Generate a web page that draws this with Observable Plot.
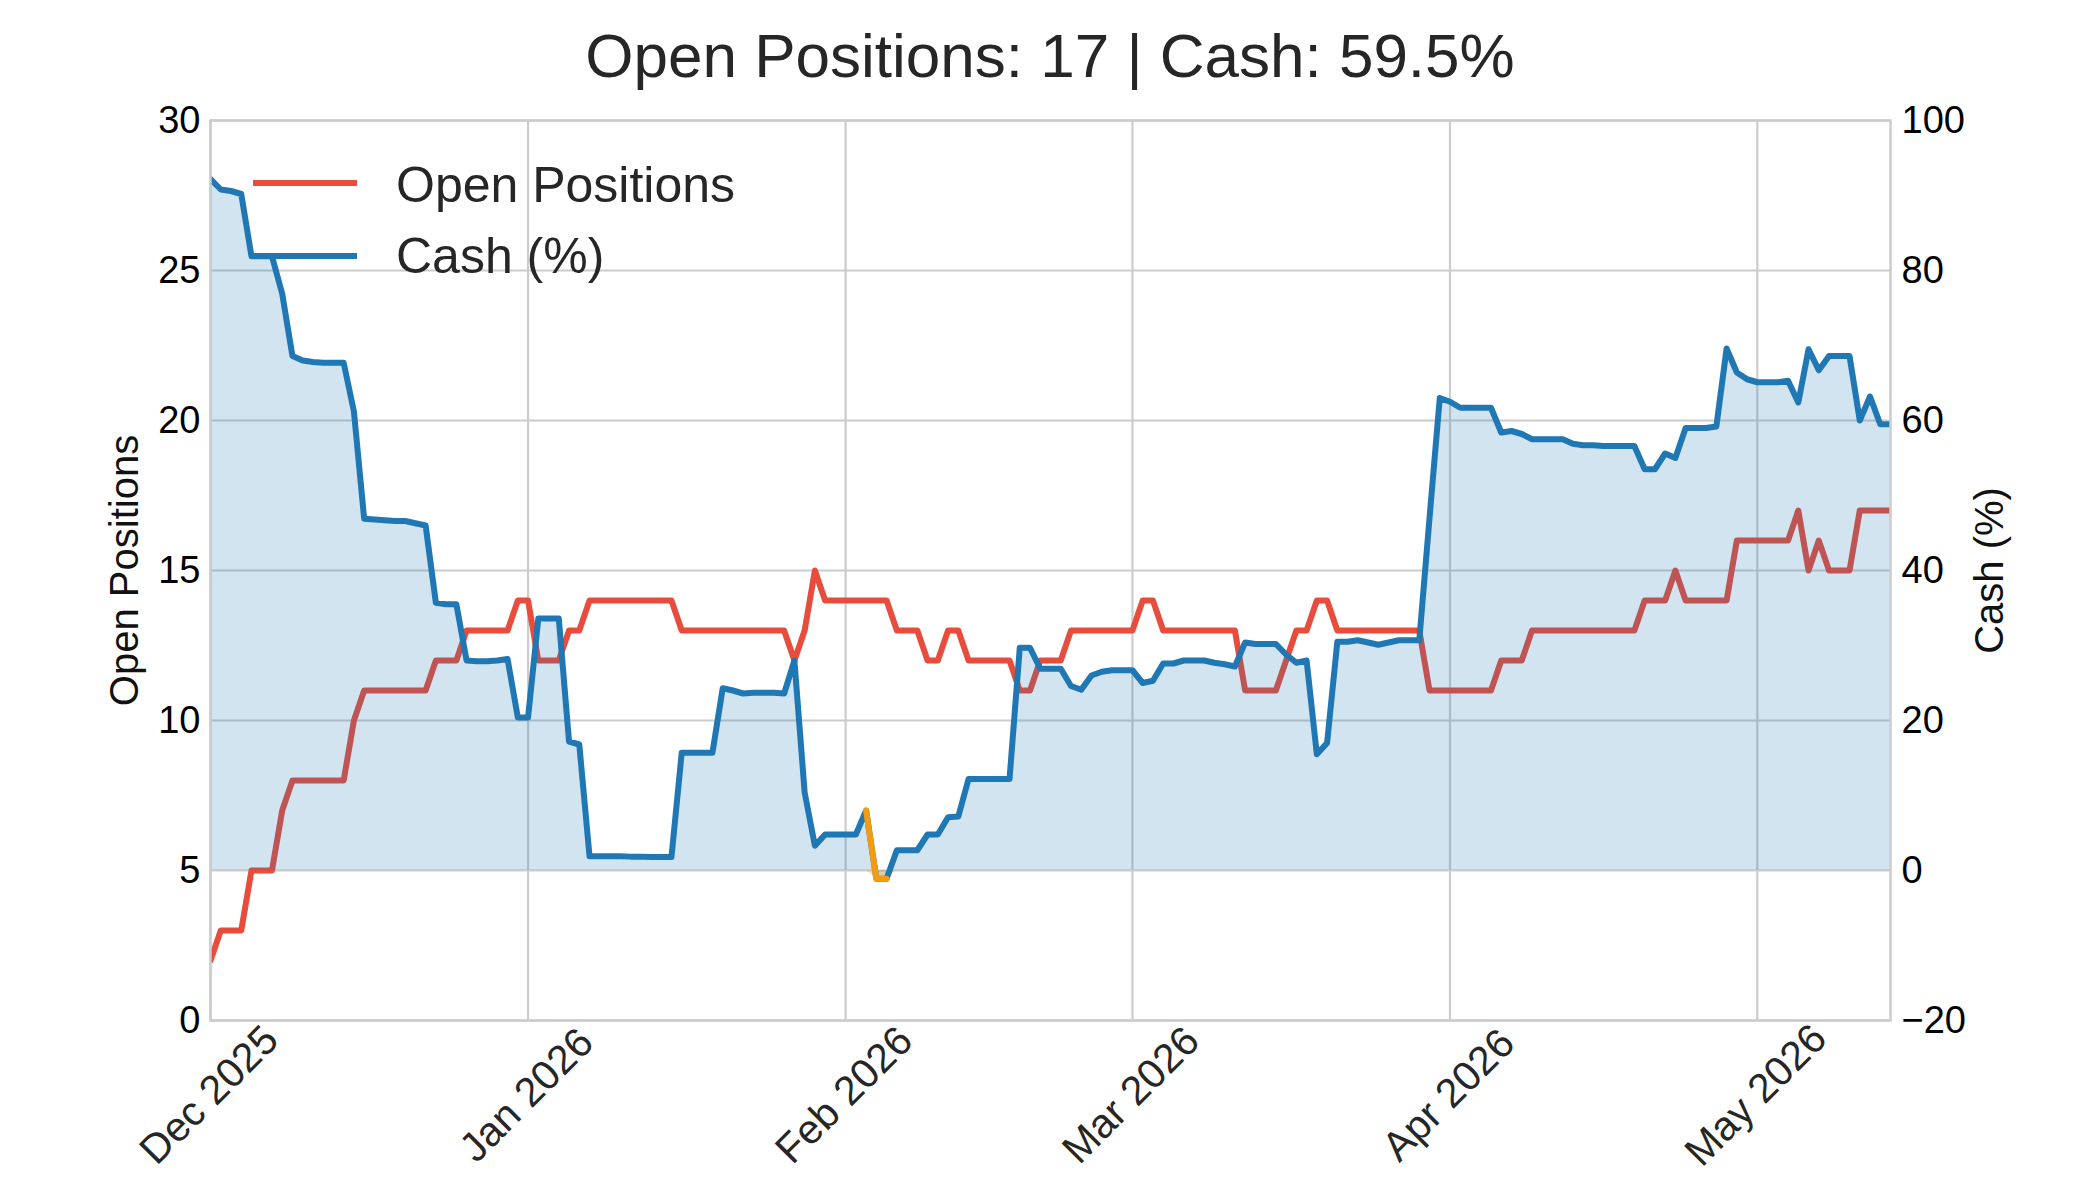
<!DOCTYPE html>
<html>
<head>
<meta charset="utf-8">
<script src="https://cdn.jsdelivr.net/npm/d3@7"></script>
<script src="https://cdn.jsdelivr.net/npm/@observablehq/plot@0.6"></script>
<style>
  html, body { margin: 0; padding: 0; background: #fff; overflow: hidden; }
  #fig { position: relative; width: 2100px; height: 1200px; font-family: "Liberation Sans", Arial, sans-serif; }
  #title { position: absolute; left: 0; top: 25px; width: 2100px; text-align: center;
           font-size: 62px; line-height: 62px; color: #262626; }
  #plots { position: absolute; left: 0; top: 100px; width: 2100px; height: 1100px; }
  #plots svg { position: absolute; left: 0; top: 0; max-width: none; overflow: visible; }
  #legend { position: absolute; left: 0; top: 0; }
</style>
</head>
<body>
<div id="fig">
  <div id="title"></div>
  <div id="plots"></div>
  <svg id="legend" width="900" height="320" font-family="'Liberation Sans', Arial, sans-serif">
    <line x1="253" x2="357" y1="183" y2="183" stroke="#e74c3c" stroke-width="6"></line>
    <text x="396" y="202" font-size="50" fill="#262626">Open Positions</text>
    <line x1="253" x2="357" y1="256" y2="256" stroke="#1f77b4" stroke-width="6"></line>
    <text x="396" y="273" font-size="50" fill="#262626">Cash (%)</text>
  </svg>
</div>
<script>
// ---------- data (one value per calendar day, 2025-12-01 .. 2026-05-14) ----------
const startDate = "2025-12-01";
const endDate = "2026-05-14";

const positionsDec = [2,3,3,3,5,5,5,7,8,8,8,8,8,8,10,11,11,11,11,11,11,11,12,12,12,13,13,13,13,13,14];
const positionsJan = [14,12,12,12,13,13,14,14,14,14,14,14,14,14,14,13,13,13,13,13,13,13,13,13,13,13,12,13,15,14,14];
const positionsFeb = [14,14,14,14,14,13,13,13,12,12,13,13,12,12,12,12,12,11,11,12,12,12,13,13,13,13,13,13];
const positionsMar = [13,14,14,13,13,13,13,13,13,13,13,11,11,11,11,12,13,13,14,14,13,13,13,13,13,13,13,13,13,11,11];
const positionsApr = [11,11,11,11,11,12,12,12,13,13,13,13,13,13,13,13,13,13,13,14,14,14,15,14,14,14,14,14,16,16];
const positionsMay = [16,16,16,16,17,15,16,15,15,15,17,17,17,17];

const cashDec = [92.2,90.8,90.6,90.2,81.9,81.9,81.9,76.9,68.6,68.0,67.8,67.7,67.7,67.7,61.2,46.9,46.8,46.7,46.6,46.6,46.3,46.0,35.7,35.5,35.5,28.0,27.9,27.9,28.0,28.2,20.4];
const cashJan = [20.4,33.6,33.6,33.6,17.2,16.8,1.9,1.9,1.9,1.9,1.85,1.85,1.8,1.8,1.8,15.7,15.7,15.7,15.7,24.3,24.0,23.6,23.7,23.7,23.7,23.6,28.0,10.4,3.3,4.8,4.8];
const cashFeb = [4.8,4.8,8.0,-1.1,-1.1,2.7,2.7,2.7,4.8,4.8,7.1,7.2,12.2,12.2,12.2,12.2,12.2,29.7,29.7,26.9,26.9,26.9,24.6,24.1,26.0,26.5,26.7,26.7];
const cashMar = [26.7,25.0,25.3,27.6,27.6,28.0,28.0,28.0,27.7,27.5,27.2,30.4,30.2,30.2,30.2,28.8,27.7,28.0,15.5,17.0,30.5,30.5,30.7,30.4,30.1,30.4,30.7,30.7,30.7,47.0,63.0];
const cashApr = [62.5,61.7,61.7,61.7,61.7,58.4,58.6,58.2,57.5,57.5,57.5,57.5,56.9,56.7,56.7,56.6,56.6,56.6,56.6,53.5,53.5,55.6,55.0,59.0,59.0,59.0,59.2,69.6,66.4,65.5];
const cashMay = [65.1,65.1,65.1,65.3,62.4,69.5,66.7,68.6,68.6,68.6,60.0,63.2,59.5,59.5];

const monthTicks = ["2025-12-01","2026-01-01","2026-02-01","2026-03-01","2026-04-01","2026-05-01"];
const positionTicks = [0,5,10,15,20,25,30];
const cashTicks = [-20,0,20,40,60,80,100];

// ---------- build table ----------
const openPositions = [].concat(positionsDec, positionsJan, positionsFeb, positionsMar, positionsApr, positionsMay);
const cashPct = [].concat(cashDec, cashJan, cashFeb, cashMar, cashApr, cashMay);
const t0 = new Date(startDate + "T00:00:00Z");
const t1 = new Date(endDate + "T00:00:00Z");
const dates = d3.utcDays(t0, d3.utcDay.offset(t1, 1));
const series = dates.map((date, i) => ({date, positions: openPositions[i], cash: cashPct[i]}));
const negSeg = series.filter((d, i) => d.cash < 0 || (series[i + 1] && series[i + 1].cash < 0));
const monthDates = monthTicks.map(s => new Date(s + "T00:00:00Z"));
const fmtMonth = d3.utcFormat("%b %Y");

const lastPoint = series[series.length - 1];
document.getElementById("title").textContent =
  `Open Positions: ${lastPoint.positions} | Cash: ${lastPoint.cash.toFixed(1)}%`;

const fontStack = "'Liberation Sans', Arial, sans-serif";
const common = {
  width: 2100, height: 1100,
  marginLeft: 210, marginRight: 210, marginTop: 20, marginBottom: 180,
  x: {type: "utc", domain: [t0, t1], axis: null}
};

const positionsPlot = Plot.plot({
  ...common,
  y: {domain: [0, 30]},
  style: {fontFamily: fontStack, background: "white", overflow: "visible"},
  marks: [
    Plot.gridY(positionTicks, {stroke: "#cccccc", strokeOpacity: 1, strokeWidth: 2.2}),
    Plot.gridX(monthDates, {stroke: "#cccccc", strokeOpacity: 1, strokeWidth: 2.2}),
    Plot.axisY(positionTicks, {anchor: "left", tickSize: 0, tickPadding: 10, fontSize: 38, fill: "#000", label: null}),
    Plot.text(monthDates, {x: d => d, text: d => fmtMonth(d), frameAnchor: "bottom", dx: 8, dy: 84,
      rotate: -45, fontSize: 41, fill: "#262626", textAnchor: "middle"}),
    Plot.text(["Open Positions"], {text: d => d, frameAnchor: "left", dx: -85, rotate: -90,
      textAnchor: "middle", fontSize: 40, fill: "#111"}),
    Plot.line(series, {x: "date", y: "positions", stroke: "#e74c3c", strokeWidth: 6,
      strokeLinejoin: "round", clip: true})
  ]
});

const cashPlot = Plot.plot({
  ...common,
  y: {domain: [-20, 100]},
  style: {fontFamily: fontStack, background: "transparent", overflow: "visible"},
  marks: [
    Plot.areaY(series, {x: "date", y1: 0, y2: "cash", fill: "#1f77b4", fillOpacity: 0.2, clip: true}),
    Plot.areaY(series, {x: "date", y1: 0, y2: d => Math.min(0, d.cash), fill: "#f39c12", fillOpacity: 0.3, clip: true}),
    Plot.line(series, {x: "date", y: "cash", stroke: "#1f77b4", strokeWidth: 6,
      strokeLinejoin: "round", clip: true}),
    Plot.line(negSeg, {x: "date", y: "cash", stroke: "#f39c12", strokeWidth: 6,
      strokeLinejoin: "round", clip: true}),
    Plot.frame({stroke: "#cccccc", strokeWidth: 2.5}),
    Plot.axisY(cashTicks, {anchor: "right", tickSize: 0, tickPadding: 11, fontSize: 38, fill: "#000", label: null}),
    Plot.text(["Cash (%)"], {text: d => d, frameAnchor: "right", dx: 100, rotate: -90,
      textAnchor: "middle", fontSize: 40, fill: "#111"})
  ]
});

const holder = document.getElementById("plots");
holder.appendChild(positionsPlot);
holder.appendChild(cashPlot);
</script>
</body>
</html>
